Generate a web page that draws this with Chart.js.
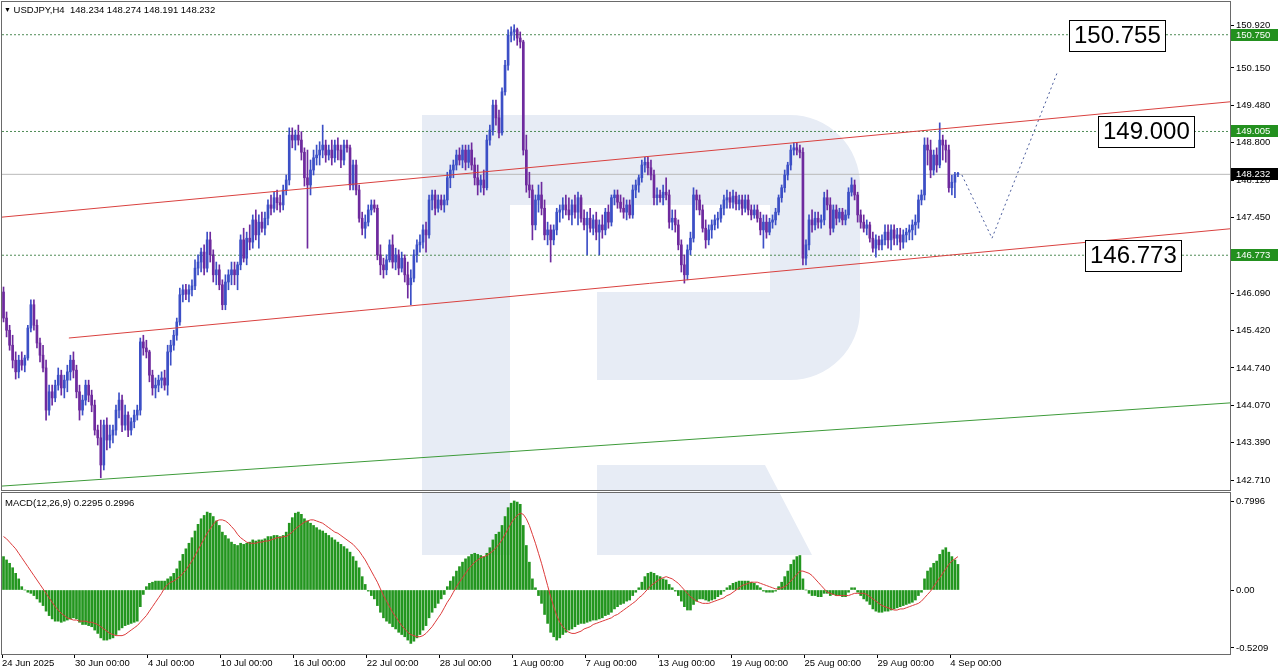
<!DOCTYPE html>
<html>
<head>
<meta charset="utf-8">
<script src="https://cdn.jsdelivr.net/npm/chart.js@4.4.1/dist/chart.umd.min.js"></script>
<style>
  body { margin: 0; background: #fff; width: 1280px; height: 672px; overflow: hidden; position: relative;
         font-family: "Liberation Sans", Arial, sans-serif; }
  canvas { position: absolute; left: 0; }
  #price { top: 0; }
  #macd { top: 492px; }
  .hdr { position: absolute; font-size: 9.5px; color: #000; white-space: pre; line-height: 11px; }
  .tri { font-size: 7px; vertical-align: 1px; }
</style>
</head>
<body>
<canvas id="price" width="1280" height="492"></canvas>
<canvas id="macd" width="1280" height="180"></canvas>
<div class="hdr" style="left:4px;top:4px"><span class="tri">▼</span> USDJPY,H4  148.234 148.274 148.191 148.232</div>
<div class="hdr" style="left:5px;top:497px">MACD(12,26,9) 0.2295 0.2996</div>
<script>
// USDJPY H4 bars, 24 Jun 2025 00:00 .. 4 Sep 2025 08:00
const firstOpen = 146.11;
const closes = [
  145.64,145.42,145.15,144.88,144.67,144.88,144.79,144.92,145.46,145.88,
  145.51,145.19,144.97,144.74,143.98,144.31,144.20,144.43,144.61,144.38,
  144.52,144.67,144.88,144.70,144.31,143.98,144.16,144.43,144.25,144.07,
  143.62,143.48,142.99,143.71,143.44,143.53,143.62,143.98,144.16,143.71,
  143.89,143.62,143.77,143.89,143.98,145.21,145.10,145.03,144.61,144.38,
  144.43,144.52,144.56,144.43,145.03,145.15,145.33,145.57,146.06,146.15,
  146.07,146.15,146.22,146.54,146.65,146.83,146.54,147.05,146.78,146.42,
  146.51,146.24,145.88,146.29,146.42,146.51,146.42,146.60,147.05,146.72,
  147.08,147.01,147.41,147.14,147.37,147.26,147.44,147.68,147.62,147.81,
  147.72,147.68,147.95,148.13,148.94,148.85,148.94,148.85,148.63,148.17,
  148.04,148.31,148.53,148.58,148.67,148.76,148.58,148.67,148.53,148.76,
  148.67,148.49,148.76,148.71,148.04,148.40,147.95,147.44,147.26,147.37,
  147.59,147.68,147.62,146.78,146.60,146.51,146.69,146.96,146.65,146.78,
  146.54,146.72,146.42,146.24,146.36,146.78,146.96,147.01,147.23,147.14,
  147.77,147.86,147.62,147.77,147.68,147.77,148.17,148.31,148.40,148.58,
  148.49,148.67,148.45,148.67,148.40,148.17,148.04,148.13,147.99,148.85,
  149.03,149.48,149.25,148.98,149.72,150.20,150.74,150.80,150.84,150.69,
  150.62,148.67,148.04,147.95,147.32,147.77,147.86,147.62,147.14,147.23,
  147.05,147.23,147.55,147.59,147.68,147.59,147.50,147.68,147.55,147.81,
  147.44,147.32,147.44,147.26,147.41,147.19,147.32,147.23,147.55,147.37,
  147.81,147.86,147.73,147.62,147.55,147.68,147.50,147.95,148.04,148.17,
  148.40,148.45,148.35,148.22,147.81,147.86,147.81,147.91,147.86,147.37,
  147.44,147.32,146.96,146.60,146.42,146.87,147.08,147.86,147.77,147.59,
  147.26,147.05,147.23,147.32,147.41,147.44,147.62,147.77,147.81,147.73,
  147.84,147.70,147.77,147.62,147.77,147.59,147.50,147.59,147.44,147.23,
  147.37,147.19,147.37,147.41,147.55,147.81,147.99,148.22,148.40,148.67,
  148.71,148.67,148.63,146.72,146.96,147.41,147.32,147.44,147.37,147.41,
  147.81,147.68,147.26,147.59,147.44,147.55,147.41,147.50,147.91,148.04,
  147.86,147.50,147.37,147.26,147.32,147.08,146.90,147.05,146.96,147.05,
  147.19,147.05,147.23,147.08,147.14,147.01,147.14,147.19,147.23,147.32,
  147.37,147.77,147.86,148.76,148.67,148.31,148.58,148.40,148.85,148.76,
  148.67,147.99,148.09,148.23,148.23
];
const highs = [
  146.20,145.75,145.51,145.33,145.03,144.97,145.03,144.97,145.51,145.97,
  145.97,145.61,145.28,145.15,144.88,144.43,144.43,144.52,144.74,144.70,
  144.61,144.79,144.97,145.03,144.79,144.43,144.25,144.52,144.52,144.34,
  144.16,143.71,143.80,143.80,143.84,143.71,143.71,144.07,144.29,144.25,
  144.07,143.95,143.84,143.98,144.07,145.28,145.33,145.24,145.06,144.70,
  144.56,144.61,144.67,144.70,145.15,145.24,145.42,145.64,146.18,146.24,
  146.25,146.24,146.33,146.69,146.78,146.90,146.96,147.19,147.19,146.87,
  146.65,146.60,146.33,146.42,146.51,146.65,146.65,146.65,147.14,147.26,
  147.19,147.32,147.50,147.59,147.50,147.55,147.55,147.77,147.86,147.91,
  147.95,147.86,148.04,148.22,149.07,149.07,149.03,149.12,149.00,148.71,
  148.67,148.49,148.67,148.76,148.82,149.12,148.85,148.76,148.85,148.85,
  148.89,148.76,148.85,148.85,148.76,148.49,148.49,148.04,147.55,147.50,
  147.68,147.77,147.77,147.68,146.96,146.72,146.78,147.05,147.14,146.90,
  146.87,146.83,146.78,146.65,146.51,146.87,147.05,147.14,147.32,147.37,
  147.86,147.95,147.95,147.86,147.86,147.86,148.27,148.40,148.49,148.67,
  148.71,148.76,148.76,148.76,148.80,148.53,148.40,148.22,148.31,148.94,
  149.12,149.57,149.57,149.39,149.79,150.29,150.84,150.89,150.93,150.87,
  150.80,150.65,148.94,148.27,148.04,147.86,148.04,148.09,147.77,147.37,
  147.32,147.32,147.62,147.68,147.81,147.86,147.81,147.77,147.86,147.91,
  147.86,147.59,147.55,147.62,147.50,147.55,147.41,147.50,147.62,147.68,
  147.86,147.95,147.95,147.86,147.81,147.77,147.77,148.04,148.13,148.22,
  148.49,148.54,148.54,148.49,148.31,147.99,147.95,148.04,148.17,147.95,
  147.59,147.59,147.41,147.05,146.78,146.96,147.19,147.99,147.95,147.86,
  147.68,147.41,147.32,147.41,147.50,147.55,147.68,147.86,147.95,147.91,
  147.95,147.91,147.86,147.86,147.86,147.86,147.68,147.68,147.68,147.55,
  147.50,147.50,147.44,147.50,147.62,147.86,148.04,148.31,148.45,148.76,
  148.80,148.80,148.76,148.71,147.05,147.50,147.59,147.55,147.55,147.50,
  147.91,147.95,147.81,147.68,147.68,147.62,147.62,147.59,147.99,148.17,
  148.13,147.91,147.59,147.50,147.41,147.37,147.19,147.14,147.12,147.14,
  147.32,147.32,147.32,147.32,147.26,147.26,147.23,147.26,147.32,147.41,
  147.50,147.86,147.95,148.89,148.89,148.85,148.67,148.71,149.16,148.94,
  148.85,148.76,148.22,148.27,148.27
];
const lows = [
  145.57,145.30,145.06,144.74,144.54,144.56,144.70,144.67,144.88,145.39,
  145.42,145.10,144.85,144.67,143.80,143.89,144.07,144.13,144.34,144.25,
  144.20,144.31,144.52,144.56,144.20,143.80,143.89,144.07,144.13,143.95,
  143.53,143.35,142.76,142.90,143.26,143.30,143.39,143.53,143.84,143.59,
  143.62,143.50,143.53,143.66,143.80,143.89,144.97,144.92,144.49,144.25,
  144.20,144.31,144.38,144.34,144.25,144.79,145.06,145.24,145.51,145.93,
  145.97,145.93,146.04,146.15,146.42,146.47,146.42,146.47,146.65,146.29,
  146.24,146.15,145.79,145.79,146.15,146.24,146.24,146.15,146.51,146.65,
  146.60,146.87,146.90,147.05,146.90,147.19,147.14,147.32,147.50,147.55,
  147.59,147.55,147.59,147.86,148.04,148.71,148.67,148.76,148.49,148.02,
  146.90,147.86,148.22,148.40,148.40,148.53,148.45,148.49,148.40,148.45,
  148.49,148.35,148.40,148.63,147.95,147.95,147.86,147.37,147.14,147.08,
  147.30,147.50,147.55,146.69,146.42,146.36,146.42,146.65,146.54,146.51,
  146.42,146.47,146.29,146.00,145.88,146.29,146.65,146.83,146.90,146.83,
  147.08,147.59,147.50,147.55,147.59,147.55,147.68,147.99,148.17,148.31,
  148.40,148.35,148.31,148.35,148.31,148.04,147.86,147.91,147.86,147.95,
  148.76,148.94,149.12,148.89,148.94,149.66,150.11,150.62,150.65,150.56,
  150.51,148.58,147.91,147.81,147.05,147.23,147.55,147.50,147.05,146.96,
  146.65,146.96,147.14,147.37,147.44,147.50,147.41,147.32,147.44,147.32,
  147.37,147.23,146.78,147.19,147.14,147.05,146.78,147.08,147.14,147.26,
  147.30,147.68,147.62,147.55,147.44,147.41,147.44,147.44,147.81,147.91,
  148.09,148.27,148.22,148.13,147.68,147.68,147.73,147.68,147.77,147.26,
  147.23,147.19,146.87,146.47,146.27,146.33,146.78,147.01,147.59,147.50,
  147.19,146.90,146.96,147.08,147.23,147.26,147.37,147.50,147.62,147.62,
  147.62,147.59,147.59,147.50,147.55,147.50,147.41,147.44,147.37,147.14,
  146.90,147.08,147.14,147.26,147.32,147.50,147.73,147.91,148.13,148.31,
  148.58,148.58,148.53,146.60,146.60,146.87,147.19,147.23,147.26,147.26,
  147.32,147.59,147.14,147.19,147.32,147.37,147.32,147.32,147.44,147.84,
  147.77,147.37,147.26,147.19,147.14,147.01,146.83,146.74,146.87,146.87,
  146.96,146.90,146.87,146.96,146.96,146.87,146.90,147.01,147.05,147.05,
  147.14,147.26,147.68,147.77,148.40,148.17,148.22,148.27,148.35,148.49,
  148.45,147.91,147.86,147.81,148.19
];
// FX bars open where the previous one closed
const opens = [firstOpen].concat(closes.slice(0, -1));

// MACD(12,26,9): main line drawn as histogram, signal as red line
const macdHist = [
  0.30,0.27,0.24,0.20,0.15,0.10,0.03,0.00,-0.02,-0.03,
  -0.05,-0.08,-0.11,-0.14,-0.19,-0.23,-0.26,-0.28,-0.28,-0.29,
  -0.28,-0.27,-0.26,-0.25,-0.26,-0.29,-0.31,-0.31,-0.32,-0.33,
  -0.36,-0.39,-0.43,-0.45,-0.45,-0.44,-0.43,-0.40,-0.36,-0.34,
  -0.32,-0.31,-0.30,-0.29,-0.28,-0.15,-0.04,0.03,0.06,0.07,
  0.08,0.08,0.08,0.08,0.10,0.12,0.15,0.19,0.26,0.32,
  0.37,0.42,0.47,0.53,0.59,0.64,0.67,0.70,0.69,0.66,
  0.62,0.58,0.52,0.49,0.46,0.43,0.41,0.40,0.42,0.41,
  0.42,0.43,0.45,0.44,0.45,0.45,0.46,0.48,0.48,0.49,
  0.49,0.48,0.49,0.52,0.60,0.65,0.69,0.70,0.68,0.64,
  0.62,0.60,0.58,0.56,0.54,0.53,0.51,0.49,0.47,0.45,
  0.43,0.41,0.39,0.37,0.34,0.30,0.26,0.20,0.12,0.05,
  -0.01,-0.05,-0.08,-0.14,-0.20,-0.25,-0.28,-0.30,-0.33,-0.35,
  -0.38,-0.40,-0.42,-0.45,-0.48,-0.46,-0.43,-0.40,-0.36,-0.32,
  -0.25,-0.20,-0.16,-0.12,-0.08,-0.04,0.03,0.08,0.12,0.17,
  0.21,0.25,0.28,0.30,0.32,0.33,0.32,0.31,0.30,0.33,
  0.38,0.45,0.50,0.52,0.58,0.66,0.74,0.78,0.80,0.79,
  0.77,0.58,0.40,0.25,0.10,0.02,-0.05,-0.12,-0.22,-0.30,
  -0.38,-0.42,-0.45,-0.43,-0.40,-0.38,-0.36,-0.35,-0.33,-0.31,
  -0.30,-0.30,-0.29,-0.28,-0.27,-0.27,-0.26,-0.25,-0.23,-0.22,
  -0.20,-0.17,-0.15,-0.13,-0.12,-0.10,-0.09,-0.05,-0.02,0.02,
  0.07,0.12,0.15,0.16,0.15,0.13,0.12,0.10,0.09,0.05,
  0.02,-0.01,-0.05,-0.10,-0.15,-0.18,-0.18,-0.13,-0.10,-0.08,
  -0.08,-0.09,-0.10,-0.09,-0.08,-0.06,-0.04,-0.01,0.02,0.04,
  0.06,0.07,0.08,0.08,0.08,0.08,0.07,0.06,0.04,0.02,
  -0.01,-0.02,-0.02,-0.02,-0.01,0.03,0.07,0.12,0.17,0.23,
  0.27,0.30,0.31,0.10,0.00,-0.03,-0.05,-0.05,-0.06,-0.06,
  -0.03,-0.03,-0.05,-0.04,-0.05,-0.05,-0.06,-0.06,-0.02,0.02,
  0.02,-0.02,-0.05,-0.08,-0.10,-0.13,-0.17,-0.19,-0.20,-0.20,
  -0.19,-0.19,-0.18,-0.17,-0.16,-0.15,-0.14,-0.13,-0.12,-0.11,
  -0.09,-0.05,-0.02,0.10,0.17,0.20,0.24,0.26,0.32,0.36,
  0.38,0.34,0.30,0.27,0.23
];
const macdSignal = [
  0.48,0.46,0.43,0.40,0.37,0.33,0.29,0.25,0.21,0.17,
  0.13,0.09,0.05,0.01,-0.03,-0.07,-0.11,-0.15,-0.18,-0.21,
  -0.23,-0.25,-0.26,-0.27,-0.27,-0.28,-0.28,-0.28,-0.29,-0.29,
  -0.30,-0.31,-0.33,-0.35,-0.37,-0.39,-0.40,-0.41,-0.41,-0.41,
  -0.40,-0.38,-0.36,-0.34,-0.32,-0.29,-0.26,-0.23,-0.19,-0.15,
  -0.11,-0.07,-0.03,0.02,0.05,0.07,0.08,0.10,0.12,0.15,
  0.18,0.22,0.26,0.31,0.36,0.41,0.46,0.51,0.55,0.59,
  0.62,0.63,0.63,0.62,0.60,0.57,0.54,0.50,0.47,0.45,
  0.43,0.42,0.42,0.42,0.43,0.43,0.44,0.44,0.45,0.46,
  0.47,0.47,0.48,0.48,0.50,0.52,0.55,0.57,0.59,0.61,
  0.62,0.63,0.63,0.62,0.61,0.60,0.58,0.56,0.54,0.52,
  0.51,0.49,0.47,0.45,0.43,0.41,0.38,0.35,0.31,0.27,
  0.22,0.17,0.12,0.07,0.01,-0.05,-0.10,-0.15,-0.20,-0.24,
  -0.28,-0.32,-0.35,-0.38,-0.40,-0.41,-0.42,-0.42,-0.41,-0.39,
  -0.36,-0.33,-0.29,-0.25,-0.21,-0.16,-0.11,-0.07,-0.02,0.03,
  0.07,0.11,0.15,0.19,0.22,0.25,0.27,0.29,0.30,0.31,
  0.33,0.35,0.38,0.41,0.45,0.50,0.55,0.60,0.64,0.67,
  0.69,0.68,0.64,0.58,0.50,0.42,0.33,0.24,0.14,0.04,
  -0.06,-0.15,-0.23,-0.29,-0.33,-0.36,-0.38,-0.39,-0.39,-0.38,
  -0.37,-0.35,-0.34,-0.33,-0.31,-0.30,-0.29,-0.28,-0.27,-0.26,
  -0.25,-0.23,-0.22,-0.20,-0.18,-0.16,-0.14,-0.12,-0.10,-0.07,
  -0.05,-0.02,0.01,0.04,0.06,0.08,0.10,0.11,0.12,0.11,
  0.10,0.08,0.06,0.03,0.00,-0.03,-0.06,-0.08,-0.10,-0.11,
  -0.12,-0.12,-0.12,-0.11,-0.10,-0.09,-0.08,-0.07,-0.05,-0.04,
  -0.02,0.00,0.02,0.04,0.05,0.06,0.07,0.07,0.07,0.06,
  0.05,0.04,0.03,0.02,0.01,0.01,0.02,0.03,0.05,0.08,
  0.11,0.14,0.17,0.17,0.16,0.15,0.13,0.10,0.07,0.04,
  0.01,-0.02,-0.03,-0.04,-0.05,-0.05,-0.05,-0.05,-0.05,-0.04,
  -0.03,-0.03,-0.03,-0.03,-0.04,-0.06,-0.08,-0.10,-0.12,-0.14,
  -0.15,-0.16,-0.17,-0.18,-0.18,-0.17,-0.17,-0.16,-0.15,-0.14,
  -0.13,-0.12,-0.10,-0.07,-0.04,-0.01,0.03,0.07,0.11,0.15,
  0.19,0.23,0.26,0.28,0.30
];

// axis ticks
const xTickBars = [0, 24, 48, 72, 96, 120, 144, 168, 192, 216, 240, 264, 288, 312];
const xTickText = ['24 Jun 2025', '30 Jun 00:00', '4 Jul 00:00', '10 Jul 00:00', '16 Jul 00:00', '22 Jul 00:00',
  '28 Jul 00:00', '1 Aug 00:00', '7 Aug 00:00', '13 Aug 00:00', '19 Aug 00:00', '25 Aug 00:00', '29 Aug 00:00', '4 Sep 00:00'];
const priceTicks = [150.92, 150.15, 149.48, 148.80, 148.12, 147.45, 146.77, 146.09, 145.42, 144.74, 144.07, 143.39, 142.71];
const macdTicks = [0.7996, 0, -0.5209];
const macdTickText = ['0.7996', '0.00', '-0.5209'];

// levels and drawn objects (bar index, price)
const levelPrices = [150.75, 149.005, 146.773];
const levelText = ['150.750', '149.005', '146.773'];
const lastPrice = 148.232;
const lastPriceText = '148.232';
const upperChannel = [[-0.5, 147.46], [403.5, 149.54]];
const lowerChannel = [[21.5, 145.28], [403.5, 147.25]];
const supportLine = [[-0.5, 142.61], [403.5, 144.11]];
const forecastPath = [[315.3, 148.22], [325.2, 147.08], [346.9, 150.10]];
const calloutText = ['150.755', '149.000', '146.773'];
const calloutPrice = [150.75, 149.005, 146.773];
const calloutBar = [350.5, 360.0, 355.8];

const slotMin = -0.5, slotMax = 403.5;
const upColor = '#3c4fc6', downColor = '#6e2a9e';
const FONT = '"Liberation Sans", Arial, sans-serif';

const isUp = closes.map((c, i) => c >= opens[i]);
const candleColors = isUp.map(u => u ? upColor : downColor);

function toPts(arr) { return arr.map(p => ({ x: p[0], y: p[1] })); }
function flat(price) { return [{ x: slotMin, y: price }, { x: slotMax, y: price }]; }

function drawLogo(chart, offY) {
  const ctx = chart.ctx, a = chart.chartArea;
  ctx.save();
  ctx.beginPath();
  ctx.rect(a.left, a.top, a.right - a.left, a.bottom - a.top);
  ctx.clip();
  ctx.translate(0, -offY);
  ctx.fillStyle = '#e7ecf5';
  ctx.beginPath();
  ctx.rect(422, 115, 88, 440);
  ctx.moveTo(510, 115);
  ctx.lineTo(790, 115);
  ctx.arcTo(860, 115, 860, 185, 70);
  ctx.lineTo(860, 310);
  ctx.arcTo(860, 380, 790, 380, 70);
  ctx.lineTo(597, 380);
  ctx.lineTo(597, 292);
  ctx.lineTo(770, 292);
  ctx.lineTo(770, 205);
  ctx.lineTo(510, 205);
  ctx.closePath();
  ctx.moveTo(597, 465);
  ctx.lineTo(765, 465);
  ctx.lineTo(812, 555);
  ctx.lineTo(597, 555);
  ctx.closePath();
  ctx.fill();
  ctx.restore();
}

function frame(chart) {
  const ctx = chart.ctx, a = chart.chartArea;
  ctx.save();
  ctx.strokeStyle = '#6a6a6a';
  ctx.lineWidth = 1;
  ctx.strokeRect(a.left - 0.5, a.top - 0.5, a.right - a.left + 1, a.bottom - a.top + 1);
  ctx.restore();
}

// keep the plot area fixed: no extra room for half tick labels
function noPad(s) { s.paddingTop = 0; s.paddingBottom = 0; s.paddingLeft = 0; s.paddingRight = 0; }

const priceDecor = {
  id: 'priceDecor',
  beforeDatasetsDraw(chart) { drawLogo(chart, 0); },
  afterDraw(chart) {
    const { ctx, scales: { x, y } } = chart;
    frame(chart);
    ctx.save();
    // boxed callouts
    ctx.font = '24px ' + FONT;
    ctx.textBaseline = 'middle';
    calloutText.forEach((t, i) => {
      const left = Math.round(x.getPixelForValue(calloutBar[i]));
      const mid = Math.round(y.getPixelForValue(calloutPrice[i]));
      const w = Math.round(ctx.measureText(t).width) + 9, h = 31;
      ctx.fillStyle = '#fff';
      ctx.fillRect(left, mid - 15, w, h);
      ctx.strokeStyle = '#000';
      ctx.lineWidth = 1;
      ctx.strokeRect(left + 0.5, mid - 15 + 0.5, w, h);
      ctx.fillStyle = '#000';
      ctx.fillText(t, left + 5, mid + 1);
    });
    // price labels on the axis
    ctx.font = '9.5px ' + FONT;
    const tag = (price, text, bg) => {
      const py = Math.round(y.getPixelForValue(price));
      ctx.fillStyle = bg;
      ctx.fillRect(1231, py - 6, 47, 12);
      ctx.fillStyle = '#fff';
      ctx.fillText(text, 1236, py + 0.5);
    };
    levelPrices.forEach((p, i) => tag(p, levelText[i], '#23901f'));
    tag(lastPrice, lastPriceText, '#000');
    ctx.restore();
  }
};

const macdDecor = {
  id: 'macdDecor',
  beforeDatasetsDraw(chart) { drawLogo(chart, 492); },
  afterDraw(chart) { frame(chart); }
};

const idx = closes.map((c, i) => i);

new Chart(document.getElementById('price'), {
  type: 'bar',
  data: {
    datasets: [
      { type: 'line', data: toPts(upperChannel), borderColor: '#d9413f', borderWidth: 1, pointRadius: 0, order: 0 },
      { type: 'line', data: toPts(lowerChannel), borderColor: '#d9413f', borderWidth: 1, pointRadius: 0, order: 0 },
      { type: 'line', data: toPts(supportLine), borderColor: '#3e9b3a', borderWidth: 1, pointRadius: 0, order: 0 },
      { type: 'line', data: toPts(forecastPath), borderColor: '#4a5c9c', borderWidth: 1, borderDash: [2, 3], pointRadius: 0, order: 0 },
      {
        data: idx.map(i => ({ x: i, y: [Math.min(lows[i], opens[i], closes[i]), Math.max(highs[i], opens[i], closes[i])] })),
        backgroundColor: candleColors, barThickness: 1, grouped: false, order: 2
      },
      {
        data: idx.map(i => ({ x: i, y: [opens[i], closes[i]] })),
        backgroundColor: candleColors, barThickness: 2, minBarLength: 1, grouped: false, order: 1
      },
      ...levelPrices.map(p => ({ type: 'line', data: flat(p), borderColor: '#4f8c57', borderWidth: 1, borderDash: [2, 2], pointRadius: 0, order: 5 })),
      { type: 'line', data: flat(lastPrice), borderColor: '#b9b9b9', borderWidth: 1, pointRadius: 0, order: 6 }
    ]
  },
  options: {
    responsive: false,
    animation: false,
    events: [],
    layout: { padding: { left: 2, top: 2, right: 0, bottom: 2 } },
    plugins: { legend: { display: false }, tooltip: { enabled: false } },
    scales: {
      x: { type: 'linear', min: slotMin, max: slotMax, offset: false, display: false },
      y: {
        position: 'right',
        min: 142.539, max: 151.34,
        afterBuildTicks: s => { s.ticks = priceTicks.map(v => ({ value: v })); },
        afterFit: s => { s.width = 50; noPad(s); },
        border: { display: false },
        grid: { drawOnChartArea: false, drawTicks: true, tickLength: 4, color: '#000' },
        ticks: { padding: 2, color: '#000', font: { size: 9.5, family: FONT }, callback: v => v.toFixed(3) }
      }
    }
  },
  plugins: [priceDecor]
});

new Chart(document.getElementById('macd'), {
  type: 'bar',
  data: {
    datasets: [
      { type: 'line', data: idx.map(i => ({ x: i, y: macdSignal[i] })), borderColor: '#dc3b3b', borderWidth: 1, pointRadius: 0, order: 0 },
      { data: idx.map(i => ({ x: i, y: macdHist[i] })), backgroundColor: '#23961f', barThickness: 2, grouped: false, order: 1 }
    ]
  },
  options: {
    responsive: false,
    animation: false,
    events: [],
    layout: { padding: { left: 2, top: 1, right: 0, bottom: 0 } },
    plugins: { legend: { display: false }, tooltip: { enabled: false } },
    scales: {
      x: {
        type: 'linear', min: slotMin, max: slotMax, offset: false,
        afterBuildTicks: s => { s.ticks = xTickBars.map(b => ({ value: b - 0.5 })); },
        afterFit: s => { s.height = 18; noPad(s); },
        border: { display: false },
        grid: { drawOnChartArea: false, drawTicks: true, tickLength: 4, color: '#000', offset: false },
        ticks: {
          autoSkip: false, maxRotation: 0, align: 'start', padding: 0, color: '#000',
          font: { size: 9.5, family: FONT },
          callback: (v, i) => xTickText[i]
        }
      },
      y: {
        position: 'right',
        min: -0.575, max: 0.8715,
        afterBuildTicks: s => { s.ticks = macdTicks.map(v => ({ value: v })); },
        afterFit: s => { s.width = 50; noPad(s); },
        border: { display: false },
        grid: { drawOnChartArea: false, drawTicks: true, tickLength: 4, color: '#000' },
        ticks: { padding: 2, color: '#000', font: { size: 9.5, family: FONT }, callback: (v, i) => macdTickText[i] }
      }
    }
  },
  plugins: [macdDecor]
});
</script>
</body>
</html>
